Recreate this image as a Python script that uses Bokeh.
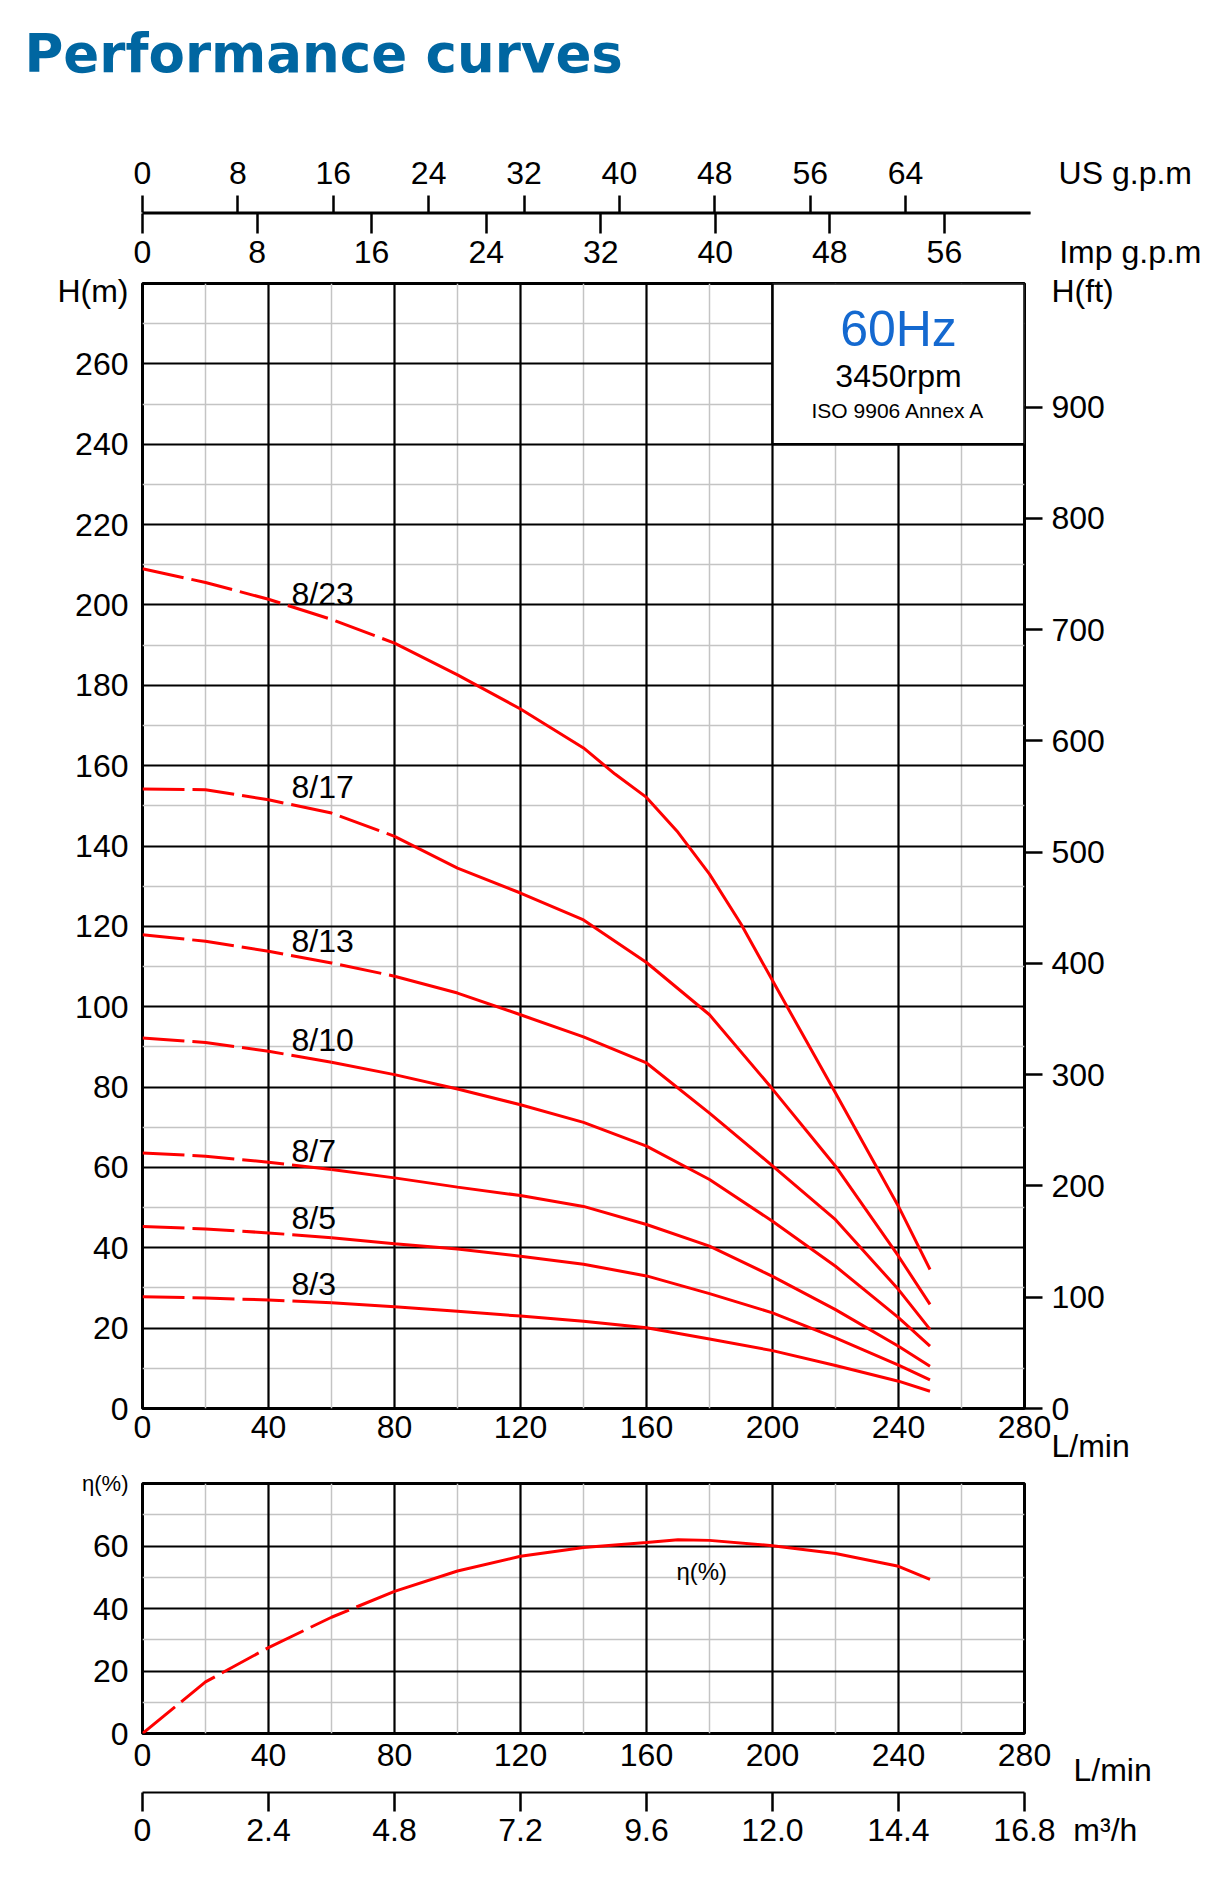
from bokeh.plotting import figure
from bokeh.models import Range1d, LinearAxis, FixedTicker, Grid, Label, CustomJSTickFormatter
from bokeh.layouts import column
from bokeh.embed import file_html
from bokeh.resources import INLINE

FONT = "Liberation Sans"

# ---------------- data ----------------
flow = [0, 20, 40, 60, 80, 100, 120, 140, 160, 180, 200, 220, 240, 250]
flow_8_23 = [0, 20, 40, 60, 80, 100, 120, 140, 150, 160, 170, 180, 190, 200, 220, 240, 250]
head_8_23 = [209.0, 205.6, 201.4, 196.4, 190.5, 182.6, 174.1, 164.4, 157.9, 152.1, 143.4, 133.0,
             120.6, 106.5, 78.5, 50.3, 34.6]
head_8_17 = [154.2, 154.0, 151.5, 148.2, 142.4, 134.5, 128.3, 121.6, 111.0, 98.0, 79.5, 60.3, 37.9, 25.9]
head_8_13 = [117.9, 116.3, 113.8, 110.9, 107.6, 103.4, 98.0, 92.5, 86.0, 73.5, 60.4, 47.0, 29.6, 19.7]
head_8_10 = [92.2, 91.1, 88.9, 86.2, 83.1, 79.5, 75.6, 71.2, 65.3, 57.0, 46.6, 35.4, 22.6, 15.5]
head_8_7 = [63.6, 62.8, 61.3, 59.5, 57.4, 55.1, 53.0, 50.3, 45.8, 40.4, 32.9, 24.6, 15.5, 10.5]
head_8_5 = [45.3, 44.7, 43.7, 42.5, 41.0, 39.7, 37.9, 35.9, 33.0, 28.6, 23.8, 17.6, 10.8, 7.1]
head_8_3 = [27.8, 27.5, 27.0, 26.3, 25.3, 24.2, 23.0, 21.7, 20.1, 17.3, 14.4, 10.7, 6.8, 4.3]

models = ["8/23", "8/17", "8/13", "8/10", "8/7", "8/5", "8/3"]
flows = [flow_8_23, flow, flow, flow, flow, flow, flow]
heads = [head_8_23, head_8_17, head_8_13, head_8_10, head_8_7, head_8_5, head_8_3]
dash_until = [80, 80, 80, 60, 60, 60, 60]          # L/min where the dashed part ends

eff_flow = [0, 20, 40, 60, 80, 100, 120, 140, 160, 170, 180, 200, 220, 240, 250]
eff = [0.0, 16.5, 27.5, 37.2, 45.5, 52.0, 56.7, 59.5, 61.1, 62.0, 61.8, 60.1, 57.6, 53.5, 49.3]
eff_dash_until = 80

lmin_ticks = [0, 40, 80, 120, 160, 200, 240, 280]
head_ticks = list(range(0, 261, 20))
ft_ticks = list(range(0, 901, 100))
us_ticks = [0, 8, 16, 24, 32, 40, 48, 56, 64]
imp_ticks = [0, 8, 16, 24, 32, 40, 48, 56]
eff_ticks = [0, 20, 40, 60]
m3h_ticks = [0, 2.4, 4.8, 7.2, 9.6, 12.0, 14.4, 16.8]

LMIN_PER_USGPM = 3.785
LMIN_PER_IMPGPM = 4.546
LMIN_PER_M3H = 1000 / 60
FT_MAX = 1011

# ---------------- layout / style constants ----------------
RED = "#ff0000"
BLACK_GRID = dict(grid_line_color="black", grid_line_width=2.2)
GRAY_GRID = dict(grid_line_color="#c4c4c4", grid_line_width=1.5)
TICK_FS = "32px"
ML = 142            # left border -> frame starts at x=142
FW = 882            # frame width for 0..280 L/min
FW_WIDE = 1065      # wider frame for the scale strips (no outline there)
MR = 185
LMIN_WIDE = 280 * FW_WIDE / FW

label_pos_flow = 47.3
label_pos_head = [202.8, 154.7, 116.3, 91.7, 64.2, 47.3, 31.0]


def style_axis(ax, tick_out=0, standoff=5, line=False, size=TICK_FS, blank=False):
    ax.major_tick_out = tick_out
    ax.major_tick_in = 0
    ax.minor_tick_out = 0
    ax.minor_tick_in = 0
    ax.major_tick_line_color = "black" if tick_out else None
    ax.major_tick_line_width = 2.5
    ax.axis_line_color = "black" if line else None
    ax.axis_line_width = 2
    ax.major_label_standoff = standoff
    ax.major_label_text_font = FONT
    ax.major_label_text_font_size = "1px" if blank else size
    ax.major_label_text_color = "black"
    if blank:
        ax.formatter = CustomJSTickFormatter(code="return '';")


def fmt(code):
    return CustomJSTickFormatter(code=code)


def add_grids(fig, xmajor, xminor, ymajor, yminor):
    fig.xgrid.grid_line_color = None
    fig.ygrid.grid_line_color = None
    fig.center.append(Grid(dimension=0, ticker=FixedTicker(ticks=xminor), **GRAY_GRID))
    fig.center.append(Grid(dimension=1, ticker=FixedTicker(ticks=yminor), **GRAY_GRID))
    fig.center.append(Grid(dimension=0, ticker=FixedTicker(ticks=xmajor), **BLACK_GRID))
    fig.center.append(Grid(dimension=1, ticker=FixedTicker(ticks=ymajor), **BLACK_GRID))


def txt(fig, x, y, text, size="32px", align="left", color="black"):
    fig.add_layout(Label(x=x, y=y, text=text, text_font=FONT, text_font_size=size,
                         text_align=align, text_baseline="middle", text_color=color))


def strip_fig(**kw):
    f = figure(output_backend="svg", toolbar_location=None,
               x_axis_location=None, y_axis_location=None, **kw)
    f.outline_line_color = None
    f.xgrid.grid_line_color = None
    f.ygrid.grid_line_color = None
    return f


# ---------------- header (title) ----------------
hd = strip_fig(frame_width=FW_WIDE, frame_height=1, min_border_left=ML, min_border_right=2,
               min_border_top=94, min_border_bottom=0,
               x_range=Range1d(0, 1), y_range=Range1d(0, 1), title="Performance curves")
hd.title.text_font = "DejaVu Sans"
hd.title.text_font_size = "53px"
hd.title.text_font_style = "bold"
hd.title.text_color = "#0066a1"
hd.title.align = "left"
hd.title.offset = -118
hd.title.standoff = 22

# ---------------- top gpm scales ----------------
top = strip_fig(frame_width=FW_WIDE, frame_height=1, min_border_left=ML, min_border_right=2,
                min_border_top=117, min_border_bottom=57,
                x_range=Range1d(0, LMIN_WIDE), y_range=Range1d(0, 1))
top.extra_x_ranges = {"us": Range1d(0, LMIN_WIDE / LMIN_PER_USGPM),
                      "imp": Range1d(0, LMIN_WIDE / LMIN_PER_IMPGPM)}
us_line = LinearAxis(x_range_name="us", ticker=FixedTicker(ticks=us_ticks),
                     bounds=(0, 282 / LMIN_PER_USGPM))
style_axis(us_line, tick_out=17, standoff=0, line=True, blank=True)
top.add_layout(us_line, "above")
US_UNIT_POS = 312.0 / LMIN_PER_USGPM
us_lab = LinearAxis(x_range_name="us", ticker=FixedTicker(ticks=us_ticks + [US_UNIT_POS]))
style_axis(us_lab, standoff=5)
us_lab.formatter = fmt("return tick > 70 ? 'US g.p.m' : tick.toString();")
top.add_layout(us_lab, "above")

imp_line = LinearAxis(x_range_name="imp", ticker=FixedTicker(ticks=imp_ticks),
                      bounds=(0, 282 / LMIN_PER_IMPGPM))
style_axis(imp_line, tick_out=20, standoff=0, line=True, blank=True)
top.add_layout(imp_line, "below")
IMP_UNIT_POS = 313.6 / LMIN_PER_IMPGPM
imp_lab = LinearAxis(x_range_name="imp", ticker=FixedTicker(ticks=imp_ticks + [IMP_UNIT_POS]))
style_axis(imp_lab, standoff=0)
imp_lab.formatter = fmt("return tick > 60 ? 'Imp g.p.m' : tick.toString();")
top.add_layout(imp_lab, "below")

# ---------------- main head figure ----------------
p = figure(frame_width=FW, frame_height=1125, min_border_left=ML, min_border_right=MR,
           min_border_top=11, min_border_bottom=58,
           x_range=Range1d(0, 280), y_range=Range1d(0, 280),
           output_backend="svg", toolbar_location=None)
p.outline_line_color = "black"
p.outline_line_width = 3
add_grids(p, [40, 80, 120, 160, 200, 240], [20, 60, 100, 140, 180, 220, 260],
          list(range(20, 261, 20)), list(range(10, 271, 20)))

p.xaxis.ticker = FixedTicker(ticks=lmin_ticks)
style_axis(p.xaxis[0], standoff=7)
p.yaxis.ticker = FixedTicker(ticks=head_ticks + [280])
style_axis(p.yaxis[0], standoff=14)
p.yaxis[0].formatter = fmt("return tick == 280 ? 'H(m)' : tick.toString();")

p.extra_y_ranges = {"ft": Range1d(0, FT_MAX)}
ft_line = LinearAxis(y_range_name="ft", ticker=FixedTicker(ticks=ft_ticks))
style_axis(ft_line, tick_out=18, standoff=0, blank=True)
p.add_layout(ft_line, "right")
FT_UNIT_POS = 1005
ft_lab = LinearAxis(y_range_name="ft", ticker=FixedTicker(ticks=ft_ticks + [FT_UNIT_POS]))
style_axis(ft_lab, standoff=9)
ft_lab.major_label_text_line_height = 1.05
ft_lab.formatter = fmt("if (tick > 950) return 'H(ft)'; "
                       "if (tick == 0) return '\\n0\\nL/min'; return tick.toString();")
p.add_layout(ft_lab, "right")

# info box
p.quad(left=200, right=280, bottom=240, top=280, fill_color="white",
       line_color="black", line_width=2.5)
txt(p, 240, 268.6, "60Hz", size="50px", align="center", color="#1469d0")
txt(p, 240, 256.9, "3450rpm", size="32px", align="center")
txt(p, 240, 248.5, "ISO 9906 Annex A", size="21px", align="center")

for name, fl, h, dend, ly in zip(models, flows, heads, dash_until, label_pos_head):
    k = fl.index(dend)
    p.line(fl[:k + 1], h[:k + 1], line_color=RED, line_width=3, line_dash="42 8")
    p.line(fl[k:], h[k:], line_color=RED, line_width=3)
    txt(p, label_pos_flow, ly, name)

# ---------------- efficiency figure ----------------
e = figure(frame_width=FW, frame_height=250, min_border_left=ML, min_border_right=MR,
           min_border_top=17, min_border_bottom=58,
           x_range=Range1d(0, 280), y_range=Range1d(0, 80),
           output_backend="svg", toolbar_location=None)
e.outline_line_color = "black"
e.outline_line_width = 3
add_grids(e, [40, 80, 120, 160, 200, 240], [20, 60, 100, 140, 180, 220, 260],
          [20, 40, 60], [10, 30, 50, 70])
e.xaxis.ticker = FixedTicker(ticks=lmin_ticks)
style_axis(e.xaxis[0], standoff=10)
e.yaxis.ticker = FixedTicker(ticks=eff_ticks)
style_axis(e.yaxis[0], standoff=14)

EFF_UNIT_POS = 80
eff_unit = LinearAxis(ticker=FixedTicker(ticks=[EFF_UNIT_POS]))
style_axis(eff_unit, standoff=-39, size="22px")
eff_unit.formatter = fmt("return '\\u03b7(%)';")
e.add_layout(eff_unit, "left")

e_unit = LinearAxis(ticker=FixedTicker(ticks=[0]))
style_axis(e_unit, standoff=49)
e_unit.formatter = fmt("return '\\n\\nL/min';")
e.add_layout(e_unit, "right")

k = eff_flow.index(eff_dash_until)
e.line(eff_flow[:k + 1], eff[:k + 1], line_color=RED, line_width=3, line_dash="42 8")
e.line(eff_flow[k:], eff[k:], line_color=RED, line_width=3)
txt(e, 169.5, 52.0, "η(%)", size="24px")

# ---------------- m3/h scale ----------------
b = strip_fig(frame_width=FW_WIDE, frame_height=1, min_border_left=ML, min_border_right=2,
              min_border_top=0, min_border_bottom=60,
              x_range=Range1d(0, LMIN_WIDE / LMIN_PER_M3H), y_range=Range1d(0, 1))
m3_line = LinearAxis(ticker=FixedTicker(ticks=m3h_ticks), bounds=(0, 16.8))
style_axis(m3_line, tick_out=19, standoff=0, line=True, blank=True)
b.add_layout(m3_line, "below")
M3_UNIT_POS = 18.34
m3_lab = LinearAxis(ticker=FixedTicker(ticks=m3h_ticks + [M3_UNIT_POS]))
style_axis(m3_lab, standoff=0)
m3_lab.formatter = fmt("if (tick > 17) return 'm\\u00b3/h'; "
                       "return tick == 0 ? '0' : tick.toFixed(1);")
b.add_layout(m3_lab, "below")

layout = column(hd, top, p, e, b, spacing=0)
open("out.html", "w", encoding="utf-8").write(file_html(layout, INLINE))
